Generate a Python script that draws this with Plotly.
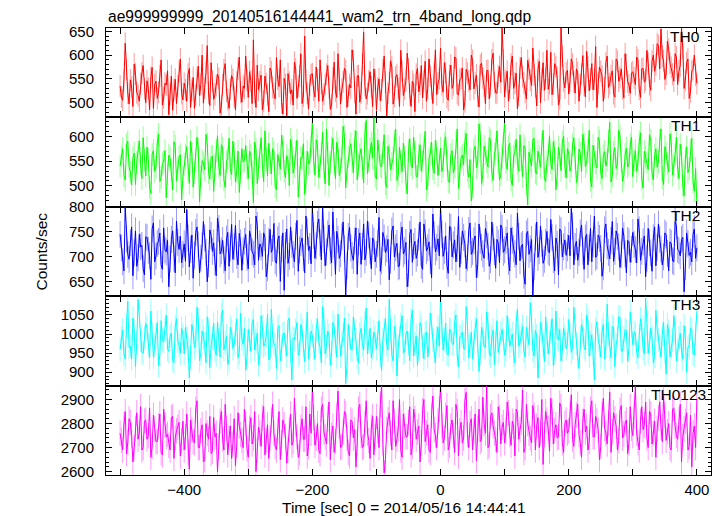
import plotly.graph_objects as go
from plotly.subplots import make_subplots
import numpy as np

TITLE = "ae999999999_20140516144441_wam2_trn_4band_long.qdp"
X_LABEL = "Time [sec] 0 = 2014/05/16 14:44:41"
Y_LABEL = "Counts/sec"
BANDS = ["TH0", "TH1", "TH2", "TH3", "TH0123"]
TIME_START = -500
TIME_BIN = 4          # spacing of each sample list; *_half lists sit half a bin later

th0 = [535, 505, 625, 520, 548, 492, 560, 515, 540, 578, 500, 530, 553, 488, 545, 522, 590, 510, 537, 475, 556, 528, 498, 566, 519,
       541, 503, 572, 526, 488, 552, 515, 600, 531, 620, 494, 545, 517, 560, 478, 538, 582, 507, 529, 549, 485, 571, 522, 535, 598,
       511, 546, 632, 490, 527, 558, 503, 540, 481, 565, 519, 595, 534, 500, 551, 472, 543, 527, 585, 509, 556, 498, 640, 520, 537,
       561, 512, 548, 590, 503, 539, 578, 486, 552, 525, 603, 497, 544, 567, 515, 531, 588, 476, 557, 520, 648, 508, 546, 533, 571,
       484, 550, 527, 598, 470, 542, 575, 513, 559, 492, 566, 528, 604, 517, 545, 481, 572, 539, 510, 587, 530, 556, 498, 611, 541,
       615, 522, 563, 505, 579, 538, 594, 516, 551, 485, 570, 546, 600, 529, 558, 491, 583, 535, 567, 508, 590, 542, 520, 576, 657,
       512, 566, 530, 598, 541, 487, 573, 555, 522, 589, 547, 615, 533, 569, 500, 584, 551, 528, 606, 539, 575, 495, 657, 546, 563,
       518, 592, 544, 571, 503, 560, 537, 608, 525, 582, 549, 490, 575, 556, 531, 598, 540, 567, 512, 587, 553, 529, 603, 544, 520,
       565, 538, 590, 511, 572, 548, 583, 526, 600, 579, 620, 655, 588, 560, 612, 574, 545, 596, 567, 657, 530, 584, 509, 566, 600, 540]
th0_half = [512, 548, 570, 497, 533, 581, 521, 503, 562, 529, 546, 485, 574, 538, 509, 556, 495, 541, 567, 518, 484, 549, 535, 592, 506,
            527, 560, 490, 553, 515, 577, 538, 499, 563, 520, 584, 507, 536, 551, 493, 569, 524, 488, 557, 512, 543, 596, 501, 530, 547,
            565, 498, 522, 579, 544, 485, 556, 517, 573, 532, 508, 549, 590, 476, 538, 561, 519, 495, 571, 535, 603, 514, 546, 487, 559,
            526, 575, 503, 541, 518, 560, 532, 495, 585, 511, 549, 528, 572, 490, 538, 611, 522, 556, 501, 580, 536, 519, 565, 492, 548,
            531, 504, 569, 543, 520, 588, 497, 554, 530, 610, 515, 547, 571, 492, 538, 560, 523, 578, 546, 503, 592, 529, 561, 517, 550,
            538, 584, 511, 557, 530, 596, 519, 548, 573, 502, 562, 527, 589, 541, 514, 579, 552, 498, 568, 535, 604, 521, 556, 543, 590,
            547, 503, 581, 530, 562, 515, 595, 542, 508, 571, 536, 558, 493, 587, 549, 526, 610, 540, 517, 582, 553, 507, 598, 531, 568,
            545, 581, 520, 563, 538, 599, 512, 575, 550, 527, 618, 541, 566, 503, 584, 532, 557, 519, 592, 545, 571, 510, 580, 537, 562,
            552, 596, 528, 571, 543, 610, 538, 587, 566, 624, 571, 598, 549, 629, 583, 560, 603, 538, 578, 615, 547, 592, 523, 570, 558]

th1 = [540, 575, 512, 590, 528, 556, 503, 568, 545, 597, 520, 553, 485, 571, 538, 604, 517, 549, 476, 562, 531, 589, 510, 558, 472,
       544, 579, 505, 566, 527, 598, 468, 551, 533, 585, 514, 560, 542, 601, 521, 576, 497, 555, 535, 590, 508, 570, 528, 548, 581,
       515, 562, 466, 574, 536, 597, 509, 553, 586, 524, 567, 492, 545, 602, 530, 561, 501, 578, 540, 592, 517, 556, 483, 570, 548,
       628, 522, 581, 539, 608, 504, 566, 547, 596, 515, 574, 533, 620, 496, 559, 585, 527, 611, 542, 575, 506, 632, 550, 587, 638,
       514, 571, 538, 603, 497, 562, 545, 590, 511, 578, 529, 560, 484, 595, 536, 568, 518, 583, 550, 610, 502, 566, 535, 592, 521,
       576, 540, 599, 509, 563, 526, 588, 495, 556, 543, 606, 518, 470, 572, 537, 625, 505, 580, 549, 597, 528, 564, 611, 512, 557,
       630, 533, 586, 501, 568, 545, 603, 519, 575, 462, 552, 594, 527, 570, 538, 612, 509, 563, 547, 589, 492, 578, 531, 600, 516,
       566, 541, 597, 507, 574, 529, 585, 548, 612, 498, 559, 536, 590, 515, 569, 552, 628, 521, 577, 544, 601, 510, 563, 538, 583,
       519, 571, 546, 607, 496, 558, 533, 592, 512, 575, 549, 615, 503, 566, 528, 587, 541, 598, 515, 562, 480, 579, 535, 596, 490, 462]
th1_half = [558, 521, 583, 539, 502, 566, 547, 591, 515, 552, 578, 496, 563, 530, 587, 509, 545, 571, 524, 556, 492, 580, 537, 563, 518,
            561, 533, 590, 498, 552, 574, 519, 545, 604, 527, 558, 489, 571, 540, 583, 512, 549, 596, 523, 566, 530, 487, 575, 552, 536,
            570, 528, 588, 505, 559, 541, 611, 520, 547, 575, 499, 563, 534, 580, 517, 552, 594, 526, 568, 478, 557, 585, 510, 544, 579,
            551, 593, 517, 566, 534, 615, 501, 577, 545, 588, 521, 559, 600, 530, 571, 548, 590, 512, 563, 537, 605, 525, 575, 556, 520,
            592, 541, 567, 505, 580, 533, 556, 614, 522, 548, 586, 507, 571, 543, 598, 519, 562, 530, 577, 492, 553, 588, 526, 569, 544,
            529, 585, 552, 507, 571, 538, 615, 520, 562, 589, 531, 553, 497, 580, 548, 604, 523, 565, 538, 592, 511, 574, 546, 522, 585,
            548, 579, 512, 560, 594, 530, 553, 581, 505, 568, 540, 596, 524, 557, 583, 515, 548, 601, 533, 570, 522, 562, 588, 541, 575,
            530, 583, 555, 520, 566, 604, 539, 571, 512, 582, 547, 598, 526, 561, 540, 590, 508, 567, 535, 612, 550, 521, 576, 544, 598,
            552, 530, 589, 514, 570, 548, 603, 525, 561, 538, 592, 517, 579, 545, 605, 522, 563, 536, 584, 501, 556, 527, 571, 508, 535]

th2 = [745, 690, 800, 705, 728, 662, 752, 698, 720, 676, 740, 713, 655, 768, 702, 731, 684, 758, 710, 640, 735, 697, 772, 715, 688,
       726, 795, 680, 744, 703, 760, 668, 722, 738, 650, 754, 711, 690, 778, 706, 733, 672, 749, 718, 695, 763, 684, 728, 712, 745,
       676, 739, 705, 782, 693, 720, 748, 660, 731, 709, 767, 687, 742, 716, 633, 756, 701, 725, 690, 773, 714, 738, 668, 750, 721,
       800, 697, 765, 728, 800, 682, 746, 712, 790, 665, 735, 706, 770, 623, 741, 718, 693, 758, 730, 685, 766, 709, 744, 676, 732,
       705, 779, 692, 738, 716, 654, 752, 700, 727, 682, 760, 712, 640, 745, 689, 731, 708, 770, 675, 748, 718, 693, 786, 710, 736,
       800, 701, 742, 667, 759, 724, 690, 781, 713, 739, 676, 753, 705, 732, 658, 766, 719, 697, 744, 681, 770, 710, 735, 688, 757,
       714, 748, 672, 733, 706, 788, 692, 725, 645, 751, 716, 622, 740, 699, 762, 687, 729, 711, 775, 694, 738, 664, 752, 720, 703,
       743, 797, 684, 731, 709, 764, 675, 745, 718, 690, 782, 702, 737, 661, 754, 722, 696, 771, 711, 741, 679, 758, 706, 733, 689,
       749, 715, 776, 693, 730, 660, 757, 708, 738, 682, 766, 716, 700, 744, 672, 727, 690, 762, 712, 735, 630, 748, 703, 690, 756, 718]
th2_half = [718, 672, 736, 695, 760, 708, 681, 745, 723, 664, 739, 702, 756, 690, 727, 748, 675, 714, 733, 696, 752, 668, 729, 741, 705,
            691, 738, 715, 657, 749, 724, 697, 771, 709, 686, 743, 728, 662, 757, 712, 694, 736, 681, 765, 720, 703, 747, 673, 731, 699,
            752, 710, 684, 763, 726, 701, 739, 678, 755, 717, 692, 734, 651, 748, 723, 687, 760, 705, 741, 671, 729, 698, 782, 713, 686,
            743, 722, 776, 694, 735, 710, 764, 688, 724, 751, 697, 740, 716, 682, 759, 703, 732, 665, 748, 721, 694, 772, 712, 738, 690,
            727, 671, 749, 709, 735, 693, 762, 718, 680, 743, 706, 729, 667, 755, 721, 697, 740, 683, 766, 712, 730, 658, 744, 719, 702,
            745, 713, 683, 761, 700, 734, 717, 679, 752, 726, 698, 768, 711, 742, 685, 733, 706, 757, 721, 694, 740, 677, 728, 764, 709,
            733, 691, 758, 716, 684, 741, 722, 663, 746, 705, 735, 680, 770, 712, 727, 695, 751, 708, 739, 672, 725, 756, 700, 734, 718,
            702, 762, 721, 693, 748, 711, 738, 684, 757, 726, 699, 744, 717, 680, 766, 709, 733, 691, 752, 720, 705, 742, 668, 730, 715,
            725, 688, 754, 711, 742, 697, 728, 671, 760, 719, 735, 684, 748, 707, 730, 692, 771, 715, 702, 739, 681, 727, 709, 745, 697]

th3 = [960, 1010, 935, 1085, 968, 1042, 915, 1090, 985, 950, 1028, 972, 1060, 940, 995, 918, 1035, 980, 1050, 955, 1002, 925, 1040, 970, 1015,
       948, 992, 885, 1025, 965, 1070, 930, 1008, 975, 1045, 912, 990, 958, 1032, 940, 1062, 978, 920, 1018, 962, 1000, 938, 1055, 973, 905,
       1012, 955, 1038, 982, 920, 1048, 968, 995, 932, 1065, 975, 910, 1022, 960, 1003, 942, 1042, 880, 986, 1030, 952, 1010, 928, 1058, 970,
       995, 935, 1040, 965, 1072, 948, 1008, 918, 1030, 978, 1052, 942, 998, 870, 1025, 960, 1045, 985, 925, 1015, 958, 1068, 980, 938, 1005,
       962, 1035, 905, 1012, 972, 1090, 945, 1020, 890, 990, 1048, 955, 1008, 930, 1062, 975, 918, 1030, 968, 1002, 940, 1055, 984, 925, 1018,
       1099, 958, 1028, 945, 1010, 972, 1050, 915, 996, 962, 1072, 938, 1005, 980, 1040, 902, 1018, 966, 1058, 950, 992, 920, 1035, 975, 1012,
       945, 1048, 968, 1000, 925, 1065, 978, 1020, 940, 992, 1082, 958, 1010, 885, 1030, 970, 1045, 948, 1005, 918, 1060, 985, 930, 1015, 962,
       1038, 952, 1070, 975, 910, 1025, 965, 1050, 942, 998, 880, 1032, 970, 1008, 935, 1078, 960, 1020, 915, 990, 1044, 956, 1012, 928, 1058,
       972, 1000, 938, 1040, 962, 1094, 950, 1015, 925, 1062, 985, 940, 1030, 895, 1005, 966, 1048, 930, 990, 958, 1022, 900, 970, 1010, 945, 1060]
th3_half = [990, 948, 1022, 965, 935, 1008, 978, 1045, 952, 990, 1015, 938, 1002, 968, 1030, 945, 985, 1012, 960, 995, 932, 1020, 982, 950, 998,
            1018, 962, 940, 1005, 980, 1038, 950, 990, 925, 1012, 970, 1028, 945, 985, 1050, 958, 995, 935, 1008, 975, 1040, 952, 988, 1015, 940,
            985, 1030, 958, 1002, 942, 1020, 975, 1052, 938, 995, 968, 1015, 930, 1000, 972, 1035, 955, 990, 1010, 945, 1025, 968, 992, 935, 1008,
            962, 1012, 982, 925, 1035, 970, 995, 950, 1020, 940, 1005, 975, 1042, 918, 990, 958, 1010, 935, 1000, 972, 1030, 948, 1015, 962, 990,
            1002, 945, 985, 1040, 958, 1010, 930, 998, 968, 1025, 950, 1000, 975, 1038, 942, 995, 960, 1018, 935, 1005, 972, 1028, 955, 990, 968,
            1020, 985, 948, 1012, 975, 1030, 945, 992, 1005, 960, 1022, 970, 935, 1015, 982, 948, 1000, 965, 1028, 942, 1010, 978, 952, 1002, 985,
            960, 1012, 985, 945, 1030, 968, 998, 955, 1018, 972, 1035, 942, 995, 962, 1010, 928, 1002, 975, 1040, 950, 988, 1012, 958, 995, 975,
            998, 965, 1022, 942, 990, 1008, 958, 1035, 975, 948, 1012, 985, 940, 1025, 968, 1000, 938, 1015, 972, 1045, 955, 990, 1008, 962, 1020,
            1005, 952, 995, 1018, 948, 1030, 975, 990, 942, 1012, 968, 1000, 955, 1025, 940, 985, 1010, 958, 1002, 935, 990, 965, 1015, 948, 1000]

th0123 = [2760, 2690, 2850, 2720, 2805, 2640, 2780, 2735, 2870, 2700, 2815, 2750, 2660, 2835, 2725, 2790, 2680, 2860, 2745, 2710, 2825, 2655, 2770, 2805, 2730,
          2690, 2840, 2610, 2775, 2720, 2895, 2700, 2795, 2650, 2760, 2830, 2685, 2745, 2600, 2810, 2735, 2880, 2670, 2790, 2715, 2625, 2845, 2755, 2700, 2800,
          2660, 2825, 2740, 2600, 2785, 2705, 2870, 2730, 2655, 2815, 2760, 2690, 2850, 2720, 2795, 2635, 2775, 2710, 2905, 2745, 2680, 2820, 2735, 2665, 2840,
          2950, 2710, 2800, 2675, 2880, 2745, 2820, 2650, 2790, 2725, 2935, 2700, 2765, 2840, 2680, 2815, 2740, 2620, 2860, 2750, 2705, 2895, 2730, 2785, 2670,
          2830, 2700, 2958, 2595, 2775, 2845, 2690, 2810, 2735, 2900, 2660, 2790, 2745, 2870, 2705, 2820, 2765, 2640, 2855, 2725, 2795, 2680, 2915, 2750, 2810,
          2958, 2720, 2835, 2690, 2790, 2750, 2880, 2665, 2805, 2740, 2930, 2700, 2820, 2770, 2645, 2860, 2735, 2800, 2955, 2710, 2845, 2760, 2680, 2825, 2785,
          2720, 2890, 2755, 2810, 2665, 2845, 2775, 2940, 2700, 2800, 2740, 2875, 2690, 2825, 2760, 2630, 2850, 2780, 2905, 2715, 2795, 2745, 2870, 2680, 2815,
          2770, 2920, 2705, 2835, 2755, 2660, 2860, 2790, 2725, 2895, 2745, 2810, 2650, 2840, 2780, 2715, 2930, 2765, 2820, 2690, 2855, 2740, 2800, 2675, 2870,
          2750, 2955, 2720, 2810, 2775, 2890, 2700, 2840, 2760, 2660, 2825, 2785, 2915, 2730, 2800, 2690, 2865, 2750, 2815, 2640, 2780, 2845, 2705, 2620, 2790, 2900]
th0123_half = [2730, 2795, 2675, 2820, 2750, 2700, 2845, 2760, 2690, 2810, 2735, 2865, 2705, 2780, 2725, 2840, 2670, 2795, 2755, 2690, 2830, 2740, 2785, 2665, 2810,
               2745, 2680, 2815, 2725, 2860, 2700, 2770, 2640, 2800, 2735, 2675, 2825, 2760, 2705, 2850, 2690, 2780, 2740, 2655, 2820, 2710, 2790, 2730, 2860, 2695,
               2780, 2715, 2850, 2690, 2760, 2825, 2670, 2795, 2740, 2880, 2705, 2770, 2650, 2815, 2745, 2690, 2840, 2725, 2800, 2660, 2785, 2735, 2870, 2705, 2760,
               2825, 2740, 2690, 2860, 2765, 2715, 2890, 2750, 2680, 2835, 2790, 2705, 2850, 2740, 2665, 2810, 2775, 2720, 2880, 2700, 2800, 2760, 2655, 2830, 2745,
               2770, 2880, 2720, 2650, 2815, 2760, 2895, 2705, 2780, 2690, 2840, 2745, 2805, 2670, 2860, 2735, 2790, 2720, 2900, 2760, 2690, 2835, 2775, 2700, 2860,
               2790, 2740, 2875, 2710, 2815, 2680, 2850, 2770, 2720, 2895, 2755, 2800, 2690, 2840, 2780, 2725, 2910, 2760, 2700, 2830, 2790, 2735, 2870, 2715, 2805,
               2770, 2845, 2710, 2790, 2860, 2735, 2805, 2680, 2880, 2760, 2720, 2835, 2790, 2700, 2900, 2755, 2815, 2685, 2850, 2770, 2740, 2885, 2720, 2800, 2760,
               2840, 2735, 2795, 2880, 2720, 2810, 2765, 2690, 2860, 2745, 2830, 2775, 2705, 2905, 2760, 2800, 2680, 2845, 2790, 2730, 2875, 2755, 2815, 2720, 2780,
               2830, 2760, 2690, 2870, 2795, 2740, 2850, 2715, 2810, 2780, 2890, 2725, 2835, 2765, 2700, 2860, 2790, 2735, 2880, 2745, 2810, 2690, 2835, 2760, 2700]

series = [(th0, th0_half), (th1, th1_half), (th2, th2_half), (th3, th3_half), (th0123, th0123_half)]
# typical 1-sigma count-rate error per band (error bar half-length)
band_errors = [23, 23, 27, 31, 53]

# styling
COLORS = ["#ff0000", "#00ff00", "#0000ff", "#00ffff", "#ff00ff"]
ERR_COLORS = ["rgba(255,0,0,0.4)", "rgba(0,255,0,0.4)", "rgba(0,0,255,0.4)",
              "rgba(0,255,255,0.4)", "rgba(255,0,255,0.4)"]
Y_RANGES = [[469, 657], [458, 638], [621, 800.4], [865, 1099], [2586, 2958]]
Y_DTICK = [50, 50, 50, 50, 100]
Y_MINOR = [10, 10, 10, 10, 20]
X_RANGE = [-522, 422]
FONT = "Liberation Sans, Arial, Helvetica, sans-serif"

# page body has an 8px margin, so the figure is shifted by 8px
OFF = 8
W, H = 722 - OFF, 516 - OFF
ML, MR, MT, MB = 106 - OFF, 11, 28 - OFF, 41
PW, PH = W - ML - MR, H - MT - MB
PLOT_TOP, PLOT_BOTTOM, PLOT_LEFT = 28, 475, 106   # in screen pixels

fig = make_subplots(rows=5, cols=1, shared_xaxes=True, vertical_spacing=0)

for i, ((va, vb), col) in enumerate(zip(series, COLORS)):
    ta = TIME_START + TIME_BIN * np.arange(len(va))
    tb = TIME_START + TIME_BIN / 2 + TIME_BIN * np.arange(len(vb))
    t = np.concatenate([ta, tb])
    y = np.concatenate([np.asarray(va, float), np.asarray(vb, float)])
    order = np.argsort(t, kind="stable")
    fig.add_trace(go.Scatter(x=t[order], y=y[order], mode="lines",
                             line=dict(color=col, width=1),
                             error_y=dict(type="constant", value=band_errors[i],
                                          color=ERR_COLORS[i], thickness=1, width=0),
                             showlegend=False, hoverinfo="skip"),
                  row=i + 1, col=1)
    fig.update_yaxes(range=Y_RANGES[i], dtick=Y_DTICK[i], tick0=0,
                     minor=dict(dtick=Y_MINOR[i], ticklen=3, ticks="inside",
                                tickcolor="black", tick0=0, showgrid=False),
                     row=i + 1, col=1)
    fig.add_annotation(text=BANDS[i], xref="paper", yref=f"y{'' if i == 0 else i + 1} domain",
                       x=(702 - PLOT_LEFT) / PW if i < 4 else (708 - PLOT_LEFT) / PW, y=1.0,
                       xanchor="right", yanchor="top", yshift=2,
                       showarrow=False, font=dict(family=FONT, size=15.5, color="black"))

fig.update_yaxes(showline=True, linecolor="black", linewidth=1, mirror="allticks",
                 ticks="inside", ticklen=6, tickcolor="black", showgrid=False,
                 zeroline=False, ticklabelstandoff=8, automargin=False,
                 tickfont=dict(family=FONT, size=15, color="black"))
fig.update_xaxes(range=X_RANGE, dtick=200, tick0=0, showline=True, linecolor="black",
                 linewidth=1, mirror="allticks", ticks="inside", ticklen=6,
                 tickcolor="black", showgrid=False, zeroline=False,
                 minor=dict(dtick=100, tick0=0, ticklen=6, ticks="inside",
                            tickcolor="black", showgrid=False),
                 ticklabelstandoff=1, automargin=False,
                 tickfont=dict(family=FONT, size=15, color="black"))

fig.add_annotation(text=TITLE, xref="paper", yref="paper", x=0.0, y=1 + (PLOT_TOP - 17) / PH,
                   xanchor="left", yanchor="middle", showarrow=False,
                   font=dict(family=FONT, size=15.6, color="black"))
fig.add_annotation(text=X_LABEL, xref="paper", yref="paper", x=(404 - PLOT_LEFT) / PW,
                   y=-(507 - PLOT_BOTTOM) / PH, xanchor="center", yanchor="middle",
                   showarrow=False, font=dict(family=FONT, size=15.5, color="black"))
fig.add_annotation(text=Y_LABEL, xref="paper", yref="paper", x=(41 - PLOT_LEFT) / PW, y=0.5,
                   xanchor="center", yanchor="middle", textangle=-90,
                   showarrow=False, font=dict(family=FONT, size=15.5, color="black"))

fig.update_layout(width=W, height=H, margin=dict(l=ML, r=MR, t=MT, b=MB, autoexpand=False),
                  paper_bgcolor="white", plot_bgcolor="white",
                  font=dict(family=FONT, color="black"))

fig.write_html("out.html")
